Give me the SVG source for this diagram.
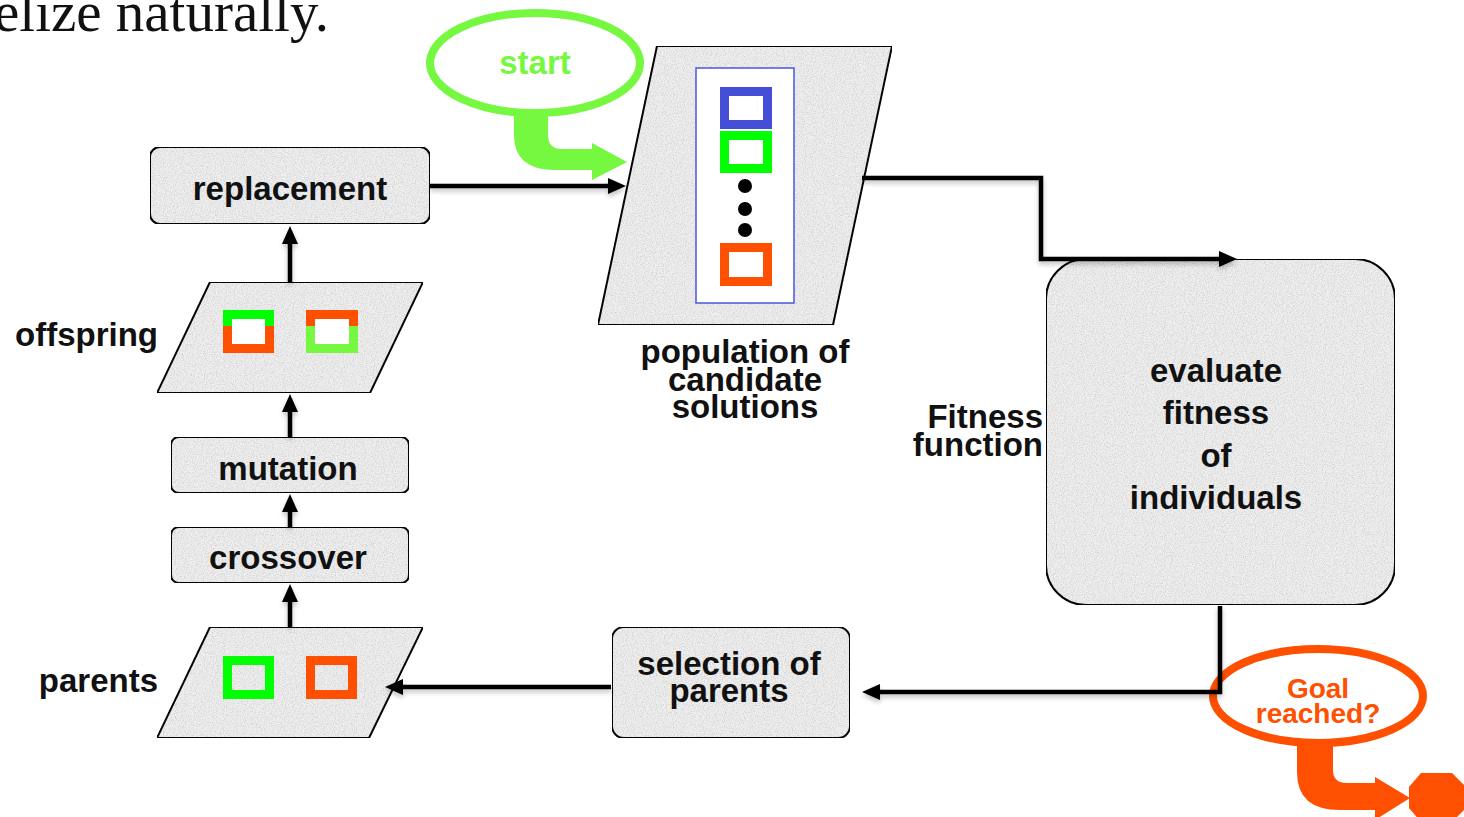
<svg xmlns="http://www.w3.org/2000/svg" width="1464" height="817" viewBox="0 0 1464 817">
<defs>
<style>
.lbl{font-family:"Liberation Sans",Arial,Helvetica,sans-serif;font-weight:bold;font-size:33px;fill:#111;}
.node{fill:#efefef;stroke:#111;stroke-width:2;}
.conn{fill:none;stroke:#000;stroke-width:4.5;}
</style>
<filter id="tex" x="0" y="0" width="1" height="1">
<feTurbulence type="fractalNoise" baseFrequency="0.9" numOctaves="3" seed="3" result="n"/>
<feColorMatrix in="n" type="matrix" values="0 0 0 0 0  0 0 0 0 0  0 0 0 0 0  0.6 0 0 0 -0.24" result="d"/>
<feComposite in="d" in2="SourceAlpha" operator="in" result="dd"/>
<feMerge><feMergeNode in="SourceGraphic"/><feMergeNode in="dd"/></feMerge>
</filter>
<filter id="sh" x="-10%" y="-10%" width="120%" height="130%">
<feGaussianBlur in="SourceAlpha" stdDeviation="2.5"/>
<feOffset dx="0" dy="3" result="b"/>
<feComponentTransfer><feFuncA type="linear" slope="0.25"/></feComponentTransfer>
<feMerge><feMergeNode/><feMergeNode in="SourceGraphic"/></feMerge>
</filter>
<marker id="ah" markerUnits="userSpaceOnUse" markerWidth="18" markerHeight="16" refX="9" refY="8" orient="auto" viewBox="0 0 18 16">
<path d="M0,0 L18,8 L0,16 Z" fill="#000"/>
</marker>
</defs>
<rect width="1464" height="817" fill="#fff"/>

<text x="-6" y="31" font-family="'Liberation Serif','Times New Roman',serif" font-size="57" fill="#111">elize naturally.</text>

<g id="start">
<ellipse cx="535" cy="63" rx="105" ry="50" fill="#fff" stroke="#76f841" stroke-width="8"/>
<text x="535" y="74" text-anchor="middle" class="lbl" style="fill:#76f841">start</text>
<path d="M514,112 L514,135 Q514,170 555,170 L592,170 L592,180 L627,162 L592,143 L592,149 L562,149 Q548,149 548,135 L548,112 Z" fill="#76f841"/>
</g>

<g id="population">
<path class="node" filter="url(#tex)" d="M657,46 L892,46 L833,325 L598,325 Z"/>
<rect x="696" y="68" width="98" height="235" fill="#fff" stroke="#4a55dd" stroke-width="1.5"/>
<rect x="724.5" y="91.5" width="43" height="33" fill="none" stroke="#444ed6" stroke-width="9"/>
<rect x="724.5" y="135.5" width="43" height="33" fill="none" stroke="#00ff00" stroke-width="9"/>
<circle cx="745" cy="186" r="7" fill="#000"/>
<circle cx="745" cy="209" r="7" fill="#000"/>
<circle cx="745" cy="230" r="7" fill="#000"/>
<rect x="724.5" y="247.5" width="43" height="34" fill="none" stroke="#ff4f00" stroke-width="9"/>
<text class="lbl" text-anchor="middle"><tspan x="745" y="363">population of</tspan><tspan x="745" y="391">candidate</tspan><tspan x="745" y="418">solutions</tspan></text>
</g>

<g id="replacement">
<rect class="node" filter="url(#tex)" x="150" y="147" width="280" height="77" rx="10"/>
<text class="lbl" x="290" y="200" text-anchor="middle">replacement</text>
</g>

<g id="offspring">
<path class="node" filter="url(#tex)" d="M210,282 L423,282 L370,393 L157,393 Z"/>
<rect x="223" y="310" width="51" height="16" fill="#00ff00"/>
<rect x="223" y="326" width="51" height="27" fill="#ff4f00"/>
<rect x="232" y="319" width="33" height="25" fill="#fff"/>
<rect x="306" y="310" width="52" height="16" fill="#ff4f00"/>
<rect x="306" y="326" width="52" height="27" fill="#76f841"/>
<rect x="315" y="319" width="34" height="25" fill="#fff"/>
<text class="lbl" x="158" y="346" text-anchor="end">offspring</text>
</g>

<g id="mutation">
<rect class="node" filter="url(#tex)" x="171" y="437" width="238" height="56" rx="8"/>
<text class="lbl" x="288" y="480" text-anchor="middle">mutation</text>
</g>

<g id="crossover">
<rect class="node" filter="url(#tex)" x="171" y="527" width="238" height="56" rx="8"/>
<text class="lbl" x="288" y="569" text-anchor="middle">crossover</text>
</g>

<g id="parents">
<path class="node" filter="url(#tex)" d="M210,627 L423,627 L369,738 L157,738 Z"/>
<rect x="227.5" y="660.5" width="42" height="34" fill="none" stroke="#00ff00" stroke-width="9"/>
<rect x="310.5" y="660.5" width="42" height="34" fill="none" stroke="#ff4f00" stroke-width="9"/>
<text class="lbl" x="158" y="692" text-anchor="end">parents</text>
</g>

<g id="selection">
<rect class="node" filter="url(#tex)" x="612" y="627" width="238" height="111" rx="12"/>
<text class="lbl" text-anchor="middle"><tspan x="729" y="675">selection of</tspan><tspan x="729" y="702">parents</tspan></text>
</g>

<g id="evaluate">
<rect class="node" filter="url(#tex)" x="1046" y="259" width="349" height="346" rx="40"/>
<text class="lbl" text-anchor="middle"><tspan x="1216" y="382">evaluate</tspan><tspan x="1216" y="424">fitness</tspan><tspan x="1216" y="467">of</tspan><tspan x="1216" y="509">individuals</tspan></text>
</g>

<g id="fitness-label">
<text class="lbl" text-anchor="end"><tspan x="1043" y="428">Fitness</tspan><tspan x="1043" y="456">function</tspan></text>
</g>

<g id="goal">
<ellipse cx="1318" cy="696" rx="105" ry="47" fill="#fff" stroke="#ff4f00" stroke-width="8"/>
<text class="lbl" text-anchor="middle" style="fill:#ff4f00;font-size:28px"><tspan x="1318" y="698">Goal</tspan><tspan x="1318" y="723">reached?</tspan></text>
<path d="M1297,743 L1297,772 Q1297,810 1340,810 L1375,810 L1375,820 L1410,798 L1375,777 L1375,783 L1347,783 Q1333,783 1333,770 L1333,743 Z" fill="#ff4f00"/>
<path d="M1421,773 L1452,773 L1466,787 L1466,808 L1452,822 L1421,822 L1409,808 L1409,787 Z" fill="#ff4f00"/>
</g>

<g id="connectors" filter="url(#sh)">
<path class="conn" d="M430,186 H617" marker-end="url(#ah)"/>
<path class="conn" d="M862,178 H1041 V259 H1228" marker-end="url(#ah)"/>
<path class="conn" d="M1220,606 V692 H871" marker-end="url(#ah)"/>
<path class="conn" d="M611,687 H394" marker-end="url(#ah)"/>
<path class="conn" d="M290,627 V593" marker-end="url(#ah)"/>
<path class="conn" d="M290,527 V503" marker-end="url(#ah)"/>
<path class="conn" d="M290,437 V403" marker-end="url(#ah)"/>
<path class="conn" d="M290,282 V235" marker-end="url(#ah)"/>
</g>
</svg>
